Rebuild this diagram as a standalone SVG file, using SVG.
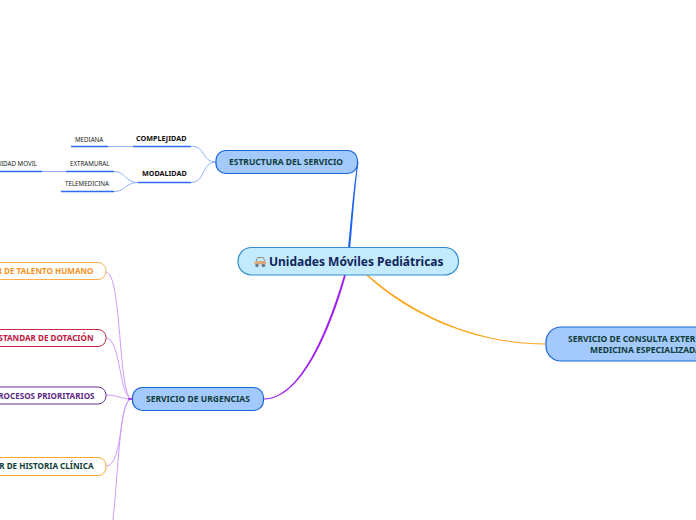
<svg xmlns="http://www.w3.org/2000/svg" width="696" height="520" viewBox="0 0 696 520">
<style>
text{font-family:"Noto Sans","Open Sans","Liberation Sans",sans-serif;font-weight:600}
.blue{fill:#a4c9fd;stroke:#1a66d8;stroke-width:1.2}
.lab{font-size:8.5px;fill:#0f3d3a;font-weight:700}
.sub{font-size:6.2px;fill:#222;font-weight:400}
.mid{font-size:7.2px;fill:#111;font-weight:700}
.ul{fill:none;stroke:#2e6bf0;stroke-width:1.5}
.lb{fill:none;stroke:#8fb2fb;stroke-width:1}
.pu{fill:none;stroke:#cf9bfb;stroke-width:1}
.leaf{fill:#fff;stroke-width:1}
.lt{font-size:8.1px;font-weight:700;text-anchor:end}
</style>
<g id="connectors">
<path d="M357.500 162C353 190 350.500 225 348 248L350.200 248C352.500 225 354.500 190 358.500 162Z" fill="#1c62ee"/>
<path d="M344 275C328 330 300 398.500 264 398.500L264 399.500C301 399.500 330 332 346 275Z" fill="#a020f0"/>
<path d="M366 275C406 312 470 344.500 546 344.500L546 343.500C470 343.500 409 310.500 368 275Z" fill="#ffa31a"/>
<path class="lb" d="M216 162C201 162 206 146 191 146"/>
<path class="lb" d="M216 162C201 162 206 182.500 191 182.500"/>
<path class="lb" d="M138 182.500C125 182.500 126 171.500 114 171.500"/>
<path class="lb" d="M138 182.500C125 182.500 126 191.500 114 191.500"/>
<path class="lb" d="M133 146.500L108 146.500"/>
<path class="lb" d="M66 171.500L42 171.500"/>
<path class="pu" d="M132 399C118 399 122 272 106 272"/>
<path class="pu" d="M132 399C119 399 121 338 106 338"/>
<path class="pu" d="M132 399C120 399 118 395 106 395"/>
<path class="pu" d="M132 399C118 399 124 466 106 466"/>
<path class="pu" d="M132 399C120 399 120 450 113 520"/>
<path d="M128 399H133" stroke="#a020f0" stroke-width="1.500"/>
</g>
<g id="root">
<rect x="238" y="247.500" width="220.500" height="27.500" rx="13.500" fill="#c4eafe" stroke="#2d8fd2" stroke-width="1.200"/>
<g id="car-icon">
<path d="M256 262L257.500 257.500H263.500L265 262" fill="none" stroke="#8a8f96" stroke-width="1"/>
<rect x="254.500" y="261" width="11.500" height="3.500" rx="1" fill="#d9ab7c"/>
<circle cx="257" cy="265.500" r="1.700" fill="#667a8c"/><circle cx="263.500" cy="265.500" r="1.700" fill="#667a8c"/>
</g>
<text x="269" y="265.500" font-size="12" fill="#10265a" style="font-weight:700">Unidades Móviles Pediátricas</text>
</g>
<g id="estructura">
<rect x="216" y="150.500" width="141.500" height="23" rx="10" class="blue"/>
<text x="229" y="165" class="lab">ESTRUCTURA DEL SERVICIO</text>
</g>
<g id="urgencias">
<rect x="132.500" y="387.500" width="131" height="23" rx="10" class="blue"/>
<text x="146" y="402" class="lab">SERVICIO DE URGENCIAS</text>
</g>
<g id="consulta">
<rect x="546" y="327" width="170" height="34" rx="15" class="blue"/>
<text x="568" y="342" class="lab">SERVICIO DE CONSULTA EXTERNA</text>
<text x="590" y="353" class="lab">MEDICINA ESPECIALIZADA</text>
</g>
<g id="complejidad">
<path class="ul" d="M133 146.500H191"/>
<text x="136" y="141" class="mid">COMPLEJIDAD</text>
</g>
<g id="modalidad">
<path class="ul" d="M138 182.500H191"/>
<text x="142" y="176" class="mid">MODALIDAD</text>
</g>
<g id="mediana">
<path class="ul" d="M71 146.500H108"/>
<text x="75" y="141.500" class="sub">MEDIANA</text>
</g>
<g id="extramural">
<path class="ul" d="M66 171.500H114"/>
<text x="70" y="166" class="sub">EXTRAMURAL</text>
</g>
<g id="telemedicina">
<path class="ul" d="M61 191.500H114"/>
<text x="65" y="186" class="sub">TELEMEDICINA</text>
</g>
<g id="unidad-movil">
<path class="ul" d="M-10 171.500H42"/>
<text x="37" y="166" class="sub" text-anchor="end">UNIDAD MOVIL</text>
</g>
<g id="talento">
<rect x="-60" y="262.500" width="166" height="17" rx="8" class="leaf" stroke="#ffb04d"/>
<text x="93.500" y="274" class="lt" fill="#f7931e">ESTANDAR DE TALENTO HUMANO</text>
</g>
<g id="dotacion">
<rect x="-60" y="329.500" width="166" height="17" rx="8" class="leaf" stroke="#c8274b"/>
<text x="93.500" y="341" class="lt" fill="#c2183f">ESTANDAR DE DOTACIÓN</text>
</g>
<g id="procesos">
<rect x="-60" y="387" width="166" height="17" rx="8" class="leaf" stroke="#6a2c91"/>
<text x="94.500" y="398.500" class="lt" fill="#5e2a84">PROCESOS PRIORITARIOS</text>
</g>
<g id="historia">
<rect x="-60" y="457.500" width="166" height="18" rx="8" class="leaf" stroke="#ffa726"/>
<text x="93.500" y="469" class="lt" fill="#0f3d3a">ESTANDAR DE HISTORIA CLÍNICA</text>
</g>
</svg>
